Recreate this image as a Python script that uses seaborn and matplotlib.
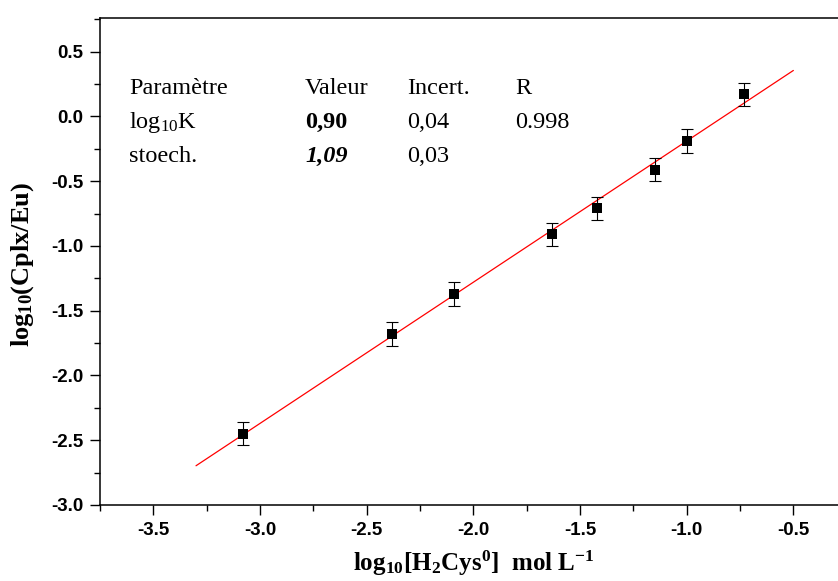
import numpy as np
import pandas as pd
import seaborn as sns
import matplotlib.pyplot as plt

# donnees experimentales
log_cys = [-3.08, -2.38, -2.09, -1.63, -1.42, -1.15, -1.00, -0.73]
log_ratio = [-2.45, -1.68, -1.37, -0.91, -0.71, -0.41, -0.19, 0.17]
err = [0.09, 0.09, 0.09, 0.09, 0.09, 0.09, 0.09, 0.09]

# parametres de l'ajustement lineaire
logK = 0.90
stoech = 1.09
fit_x = [-3.3, -0.5]

sns.set_style("ticks")
plt.rcParams['font.family'] = ['Liberation Serif', 'DejaVu Serif']
plt.rcParams['axes.unicode_minus'] = False
plt.rcParams['text.color'] = 'black'
plt.rcParams['axes.labelcolor'] = 'black'
plt.rcParams['axes.edgecolor'] = 'black'
plt.rcParams['xtick.color'] = 'black'
plt.rcParams['ytick.color'] = 'black'
plt.rcParams['mathtext.fontset'] = 'custom'
plt.rcParams['mathtext.rm'] = 'Liberation Serif'
plt.rcParams['mathtext.bf'] = 'Liberation Serif:bold'
plt.rcParams['mathtext.it'] = 'Liberation Serif:italic'

df = pd.DataFrame({'x': log_cys, 'y': log_ratio, 'err': err})
fit = pd.DataFrame({'x': fit_x, 'y': [stoech * v + logK for v in fit_x]})

fig = plt.figure(figsize=(8.38, 5.81), dpi=100)
ax = fig.add_axes([100 / 838, 1 - 505 / 581, 746.7 / 838, 487 / 581])

sns.lineplot(data=fit, x='x', y='y', color='red', linewidth=0.9, ax=ax)
ax.errorbar(df['x'], df['y'], yerr=df['err'], fmt='none', ecolor='black',
            elinewidth=0.8, capsize=4, capthick=0.8, zorder=3)
sns.scatterplot(data=df, x='x', y='y', marker='s', s=60, color='black',
                edgecolor='black', linewidth=0, ax=ax, zorder=4)

ax.set_xlim(-3.75, -0.25)
ax.set_ylim(-3.0, 0.76)
ax.set_xticks(np.arange(-3.5, -0.25, 0.5))
ax.set_xticks(np.arange(-3.75, -0.2, 0.25), minor=True)
ax.set_yticks(np.arange(-3.0, 0.6, 0.5))
ax.set_yticks(np.arange(-3.0, 0.76, 0.25), minor=True)
ax.tick_params(which='major', direction='out', length=7, width=1,
               labelsize=13.5, pad=5)
ax.tick_params(which='minor', direction='out', length=4, width=1)
for lab in ax.get_xticklabels() + ax.get_yticklabels():
    lab.set_fontfamily('Liberation Sans')
    lab.set_fontweight('bold')
for s in ax.spines.values():
    s.set_linewidth(1.1)

ax.set_xlabel(r'log$_{\mathbf{10}}$[H$_{\mathbf{2}}$Cys$^{\mathbf{0}}$]  mol L$^{\mathbf{-1}}$',
              fontsize=18, fontweight='bold')
ax.xaxis.set_label_coords(0.501, -0.09)
ax.set_ylabel(r'log$_{\mathbf{10}}$(Cplx/Eu)', fontsize=19, fontweight='bold')
ax.yaxis.set_label_coords(-0.086, 0.495)

# tableau des parametres
cols = [129, 305, 407, 515]
rows = [94, 128, 162]
txt = [['Paramètre', 'Valeur', 'Incert.', 'R'],
       [r'log$_{10}$K', '0,90', '0,04', '0.998'],
       ['stoech.', '1,09', '0,03', '']]
for i, r in enumerate(txt):
    for j, t in enumerate(r):
        kw = {}
        if i == 1 and j == 1:
            kw['fontweight'] = 'bold'
        if i == 2 and j == 1:
            kw['fontweight'] = 'bold'
            kw['fontstyle'] = 'italic'
        fig.text(cols[j] / 838, 1 - rows[i] / 581, t, fontsize=17.5,
                 va='baseline', ha='left', **kw)

fig.savefig('out.png', dpi=100)
